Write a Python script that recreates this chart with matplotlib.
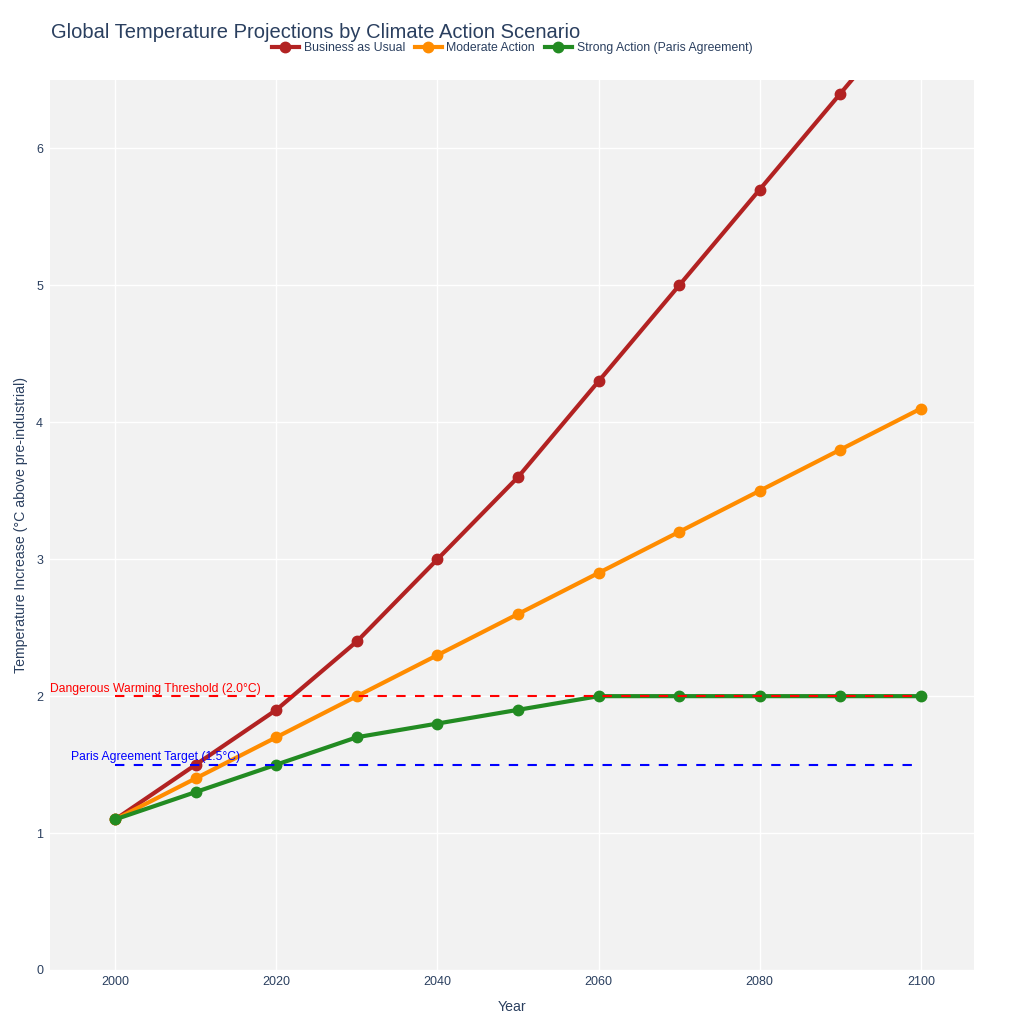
import matplotlib.pyplot as plt

# data
years = [2000, 2010, 2020, 2030, 2040, 2050, 2060, 2070, 2080, 2090, 2100]
business_as_usual = [1.1, 1.5, 1.9, 2.4, 3.0, 3.6, 4.3, 5.0, 5.7, 6.4, 7.1]
moderate_action = [1.1, 1.4, 1.7, 2.0, 2.3, 2.6, 2.9, 3.2, 3.5, 3.8, 4.1]
strong_action = [1.1, 1.3, 1.5, 1.7, 1.8, 1.9, 2.0, 2.0, 2.0, 2.0, 2.0]

series_names = ['Business as Usual', 'Moderate Action', 'Strong Action (Paris Agreement)']
series_colors = ['#b22222', '#ff8c00', '#228b22']

threshold_2c = 2.0
target_1_5c = 1.5

plt.rcParams['font.family'] = ['Liberation Sans', 'DejaVu Sans']
text_color = '#2a3f5f'

fig = plt.figure(figsize=(10.24, 10.24), dpi=100)
ax = fig.add_axes([50 / 1024, 54 / 1024, 924 / 1024, 890 / 1024])
ax.set_facecolor('#f2f2f2')

for vals, name, col in zip([business_as_usual, moderate_action, strong_action],
                           series_names, series_colors):
    ax.plot(years, vals, color=col, lw=3, marker='o', markersize=7.5,
            label=name, zorder=3, clip_on=True)

# reference lines drawn on top like plotly shapes
ax.plot([years[0], years[-1]], [threshold_2c, threshold_2c], color='red',
        lw=1.5, linestyle=(0, (4.5, 4.5)), zorder=5)
ax.plot([years[0], years[-1]], [target_1_5c, target_1_5c], color='blue',
        lw=1.5, linestyle=(0, (4.5, 4.5)), zorder=5)
ax.text(2005, threshold_2c + 0.01, 'Dangerous Warming Threshold (2.0°C)', color='red',
        fontsize=8.7, ha='center', va='bottom', zorder=6)
ax.text(2005, target_1_5c + 0.01, 'Paris Agreement Target (1.5°C)', color='blue',
        fontsize=8.7, ha='center', va='bottom', zorder=6)

ax.set_xlim(1991.9, 2106.6)
ax.set_ylim(0, 6.5)
ax.set_xticks(range(2000, 2101, 20))
ax.set_yticks(range(0, 7))
ax.grid(True, color='white', lw=1)
ax.set_axisbelow(True)
ax.tick_params(length=0, labelsize=9, labelcolor=text_color)
ax.tick_params(axis='x', pad=4)
ax.tick_params(axis='y', pad=5)
for s in ax.spines.values():
    s.set_visible(False)

ax.set_xlabel('Year', fontsize=10.2, color=text_color, labelpad=9)
ax.set_ylabel('Temperature Increase (°C above pre-industrial)', fontsize=10.2,
              color=text_color, labelpad=6)

fig.text(51 / 1024, 1 - 33 / 1024, 'Global Temperature Projections by Climate Action Scenario',
         fontsize=14.5, color=text_color, ha='left', va='center')

fig.legend(loc='center', bbox_to_anchor=(512 / 1024, 1 - 48 / 1024), ncol=3,
           frameon=False, fontsize=8.8, handlelength=2.2, columnspacing=0.8,
           handletextpad=0.4, labelcolor=text_color)

fig.savefig('out.png', dpi=100)
